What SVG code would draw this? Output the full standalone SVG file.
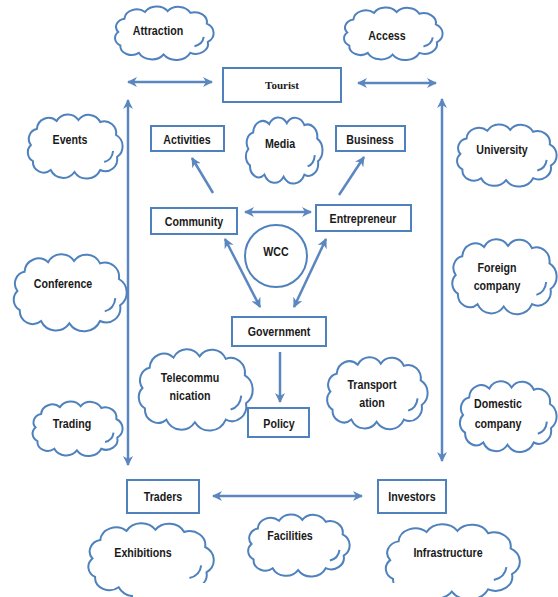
<svg xmlns="http://www.w3.org/2000/svg" xmlns:xlink="http://www.w3.org/1999/xlink" width="558" height="597" viewBox="0 0 558 597">
<style>
.bg{fill:#ffffff}
.box{fill:#ffffff;stroke:#4f81bd;stroke-width:2}
.cloud{fill:#ffffff;stroke:#4f81bd;stroke-width:2;vector-effect:non-scaling-stroke}
.curl{fill:none;stroke:#4f81bd;stroke-width:2;vector-effect:non-scaling-stroke}
.lbl{font-family:"Liberation Sans Narrow","Liberation Sans",Arial,sans-serif;font-weight:bold;font-size:13px;fill:#1a1a1a;text-anchor:middle}
.ser{font-family:"Liberation Serif","Times New Roman",serif;font-weight:bold;font-size:11px;fill:#1a1a1a;text-anchor:middle}
.conn{fill:none;stroke:#5b87c0;stroke-width:2.5}
</style>
<defs>
<marker id="ah" viewBox="0 0 10 10" refX="9" refY="5" markerWidth="10" markerHeight="10" markerUnits="userSpaceOnUse" orient="auto-start-reverse">
<path d="M0,0 L10,5 L0,10 L3,5 Z" fill="#5b87c0"/>
</marker>
<g id="cloud">
<path class="cloud" d="M8,30 A10,10 0 0 1 14,14 A12,12 0 0 1 34,6 A13,13 0 0 1 56,5 A13,13 0 0 1 78,7 A12,12 0 0 1 94,20 A13,13 0 0 1 95,42 A12,12 0 0 1 78,55 A15,15 0 0 1 52,57 A14,14 0 0 1 28,55 A11,11 0 0 1 10,46 A10,10 0 0 1 8,30 Z"/>
<path class="curl" d="M82,47 Q90,45 91,36"/>
</g>
</defs>
<rect class="bg" x="0" y="0" width="558" height="597"/>

<g id="connectors">
<line class="conn" x1="128" y1="82" x2="212" y2="82" marker-start="url(#ah)" marker-end="url(#ah)"/>
<line class="conn" x1="358" y1="83" x2="436" y2="83" marker-start="url(#ah)" marker-end="url(#ah)"/>
<line class="conn" x1="128" y1="100" x2="128" y2="465" marker-start="url(#ah)" marker-end="url(#ah)"/>
<line class="conn" x1="442" y1="99" x2="442" y2="461" marker-start="url(#ah)" marker-end="url(#ah)"/>
<line class="conn" x1="213" y1="193" x2="192" y2="158" marker-end="url(#ah)"/>
<line class="conn" x1="339" y1="195" x2="364" y2="157" marker-end="url(#ah)"/>
<line class="conn" x1="245" y1="212" x2="311" y2="212" marker-start="url(#ah)" marker-end="url(#ah)"/>
<line class="conn" x1="225" y1="239" x2="260" y2="307" marker-start="url(#ah)" marker-end="url(#ah)"/>
<line class="conn" x1="326" y1="239" x2="294" y2="307" marker-start="url(#ah)" marker-end="url(#ah)"/>
<line class="conn" x1="280" y1="352" x2="280" y2="402" marker-end="url(#ah)"/>
<line class="conn" x1="213" y1="496" x2="362" y2="496" marker-start="url(#ah)" marker-end="url(#ah)"/>
</g>

<g id="tourist"><rect class="box" x="223" y="68" width="118" height="34"/><text class="ser" x="282" y="89">Tourist</text></g>
<g id="activities"><rect class="box" x="151" y="126" width="73" height="25"/><text class="lbl" transform="matrix(0.82 0 0 1 187 143.5)">Activities</text></g>
<g id="business"><rect class="box" x="336" y="126" width="69" height="25"/><text class="lbl" transform="matrix(0.82 0 0 1 370 143.5)">Business</text></g>
<g id="community"><rect class="box" x="151" y="208" width="86" height="26"/><text class="lbl" transform="matrix(0.82 0 0 1 194 225.5)">Community</text></g>
<g id="entrepreneur"><rect class="box" x="316" y="205" width="95" height="26"/><text class="lbl" transform="matrix(0.82 0 0 1 363 222.5)">Entrepreneur</text></g>
<g id="wcc"><circle class="box" cx="276" cy="256" r="31"/><text class="lbl" transform="matrix(0.82 0 0 1 276 255.5)">WCC</text></g>
<g id="government"><rect class="box" x="232" y="317" width="94" height="29"/><text class="lbl" transform="matrix(0.82 0 0 1 279 335.5)">Government</text></g>
<g id="policy"><rect class="box" x="248" y="408" width="61" height="29"/><text class="lbl" transform="matrix(0.82 0 0 1 279 427.5)">Policy</text></g>
<g id="traders"><rect class="box" x="127" y="480" width="72" height="33"/><text class="lbl" transform="matrix(0.82 0 0 1 163 500.5)">Traders</text></g>
<g id="investors"><rect class="box" x="378" y="480" width="68" height="33"/><text class="lbl" transform="matrix(0.82 0 0 1 412 500.5)">Investors</text></g>

<g id="attraction"><use xlink:href="#cloud" transform="translate(110,7) scale(1.03,0.833)"/><text class="lbl" transform="matrix(0.82 0 0 1 158 34.5)">Attraction</text></g>
<g id="access"><use xlink:href="#cloud" transform="translate(339,8) scale(1.03,0.817)"/><text class="lbl" transform="matrix(0.82 0 0 1 387 39.5)">Access</text></g>
<g id="events"><use xlink:href="#cloud" transform="translate(23,115) scale(0.99,1)"/><text class="lbl" transform="matrix(0.82 0 0 1 70 143.5)">Events</text></g>
<g id="media"><use xlink:href="#cloud" transform="translate(242,118) scale(0.8,1.03)"/><text class="lbl" transform="matrix(0.82 0 0 1 280 147.5)">Media</text></g>
<g id="university"><use xlink:href="#cloud" transform="translate(452,125) scale(1.04,0.967)"/><text class="lbl" transform="matrix(0.82 0 0 1 502 153.5)">University</text></g>
<g id="conference"><use xlink:href="#cloud" transform="translate(8,255) scale(1.18,1.2)"/><text class="lbl" transform="matrix(0.82 0 0 1 63 287.5)">Conference</text></g>
<g id="foreign"><use xlink:href="#cloud" transform="translate(447,240) scale(1.09,1.167)"/><text class="lbl" transform="matrix(0.82 0 0 1 497 271.5)">Foreign</text><text class="lbl" transform="matrix(0.82 0 0 1 497 289.5)">company</text></g>
<g id="telecom"><use xlink:href="#cloud" transform="translate(133,350) scale(1.19,1.267)"/><text class="lbl" transform="matrix(0.82 0 0 1 190 381.5)">Telecommu</text><text class="lbl" transform="matrix(0.82 0 0 1 190 399.5)">nication</text></g>
<g id="transport"><use xlink:href="#cloud" transform="translate(322,358) scale(1.05,1.12)"/><text class="lbl" transform="matrix(0.82 0 0 1 372 388.5)">Transport</text><text class="lbl" transform="matrix(0.82 0 0 1 372 406.5)">ation</text></g>
<g id="trading"><use xlink:href="#cloud" transform="translate(28,402) scale(0.94,0.85)"/><text class="lbl" transform="matrix(0.82 0 0 1 72 427.5)">Trading</text></g>
<g id="domestic"><use xlink:href="#cloud" transform="translate(455,382) scale(1.01,1.1)"/><text class="lbl" transform="matrix(0.82 0 0 1 498 407.5)">Domestic</text><text class="lbl" transform="matrix(0.82 0 0 1 498 427.5)">company</text></g>
<g id="exhibitions"><use xlink:href="#cloud" transform="translate(82,524) scale(1.31,1.15)"/><text class="lbl" transform="matrix(0.82 0 0 1 143 556.5)">Exhibitions</text></g>
<g id="facilities"><use xlink:href="#cloud" transform="translate(243,515) scale(1.06,0.967)"/><text class="lbl" transform="matrix(0.82 0 0 1 290 539.5)">Facilities</text></g>
<g id="infrastructure"><use xlink:href="#cloud" transform="translate(379,525) scale(1.4,1.17)"/><text class="lbl" transform="matrix(0.82 0 0 1 448 556.5)">Infrastructure</text></g>

<rect class="bg" x="133" y="583" width="306" height="14"/>
</svg>
